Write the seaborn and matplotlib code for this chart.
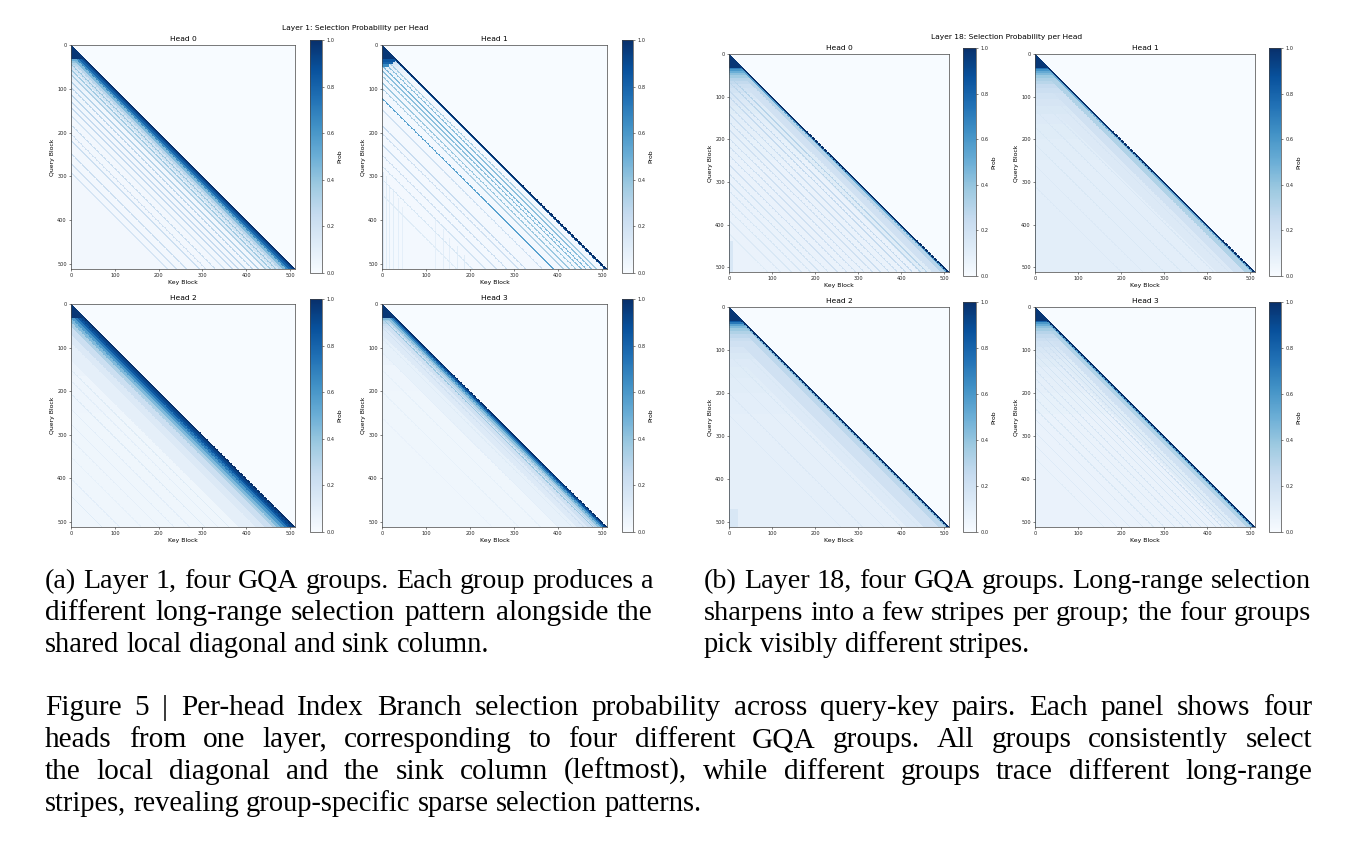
import numpy as np
import matplotlib
matplotlib.use("Agg")
import matplotlib.pyplot as plt
import seaborn as sns
from matplotlib.font_manager import FontProperties

# --- 1. Data ---
N_BLOCKS = 512
SINK_ROWS = 32          # first query rows select every block
TICKS = [0, 100, 200, 300, 400, 500]
CBAR_TICKS = [0.0, 0.2, 0.4, 0.6, 0.8, 1.0]
# background level just below the fully-selected rows, by query-row range
ROW_EDGES = [32, 36, 40, 45, 50, 56, 63, 71, 80, 92, 106, 122, 140, 165, 200, 250, 512]

# Layer 1
L1H0_BAND_EDGES = [0, 4, 9, 15, 21, 29, 37, 51, 71]
L1H0_BAND_LEVELS = [1.0, 0.9, 0.8, 0.65, 0.45, 0.3, 0.18, 0.1]
L1H0_STRIPES = [42, 55, 66, 82, 95, 112, 128, 141, 160, 181, 202, 217, 246, 269, 290]
L1H0_STRIPE_LEVELS = [0.38, 0.36, 0.33, 0.3, 0.28, 0.28, 0.25, 0.25, 0.18, 0.23, 0.2, 0.22, 0.22, 0.2, 0.17]
L1H0_STRIPE_WIDTH = 4
L1H0_ROW_LEVELS = [0.5, 0.4, 0.32, 0.25, 0.2, 0.16, 0.13, 0.1, 0.08, 0.06, 0.05, 0.04, 0.035, 0.03, 0.03, 0.03]
L1H0_SINK = 0.08
L1H0_PATCHES = []

L1H1_BAND_EDGES = [0, 5, 7]
L1H1_BAND_LEVELS = [1.0, 0.8]
L1H1_STRIPES = [22, 33, 46, 57, 69, 84, 97, 120, 146, 183, 200, 226, 250, 275, 305, 340]
L1H1_STRIPE_LEVELS = [0.35, 0.42, 0.45, 0.42, 0.38, 0.38, 0.33, 0.55, 0.2, 0.24, 0.2, 0.22, 0.2, 0.18, 0.15, 0.12]
L1H1_STRIPE_WIDTH = 4
L1H1_ROW_LEVELS = [0.3, 0.22, 0.16, 0.12, 0.09, 0.07, 0.05, 0.04, 0.03, 0.03, 0.02, 0.02, 0.02, 0.02, 0.02, 0.02]
L1H1_SINK = 0.06
L1H1_PATCHES = [(32, 38, 0, 30, 0.85), (38, 44, 0, 24, 0.8), (44, 50, 0, 15, 0.65),
                (290, 512, 0, 4, 0.14), (300, 512, 8, 11, 0.12), (320, 512, 16, 19, 0.12),
                (330, 512, 26, 28, 0.11), (350, 512, 36, 39, 0.1), (370, 512, 46, 48, 0.09),
                (400, 512, 120, 122, 0.09), (420, 512, 138, 141, 0.1), (440, 512, 152, 154, 0.1),
                (460, 512, 170, 173, 0.11), (480, 512, 186, 188, 0.12)]

L1H2_BAND_EDGES = [0, 5, 12, 18, 25, 33, 42, 52, 70, 90, 130]
L1H2_BAND_LEVELS = [1.0, 0.92, 0.85, 0.72, 0.58, 0.45, 0.33, 0.22, 0.14, 0.09]
L1H2_STRIPES = [150, 175, 205, 240, 275, 310, 350, 400, 440]
L1H2_STRIPE_LEVELS = [0.12, 0.1, 0.12, 0.1, 0.1, 0.09, 0.08, 0.1, 0.12]
L1H2_STRIPE_WIDTH = 3
L1H2_ROW_LEVELS = [0.5, 0.4, 0.32, 0.26, 0.21, 0.17, 0.14, 0.12, 0.1, 0.09, 0.08, 0.07, 0.06, 0.05, 0.05, 0.04]
L1H2_SINK = 0.06
L1H2_PATCHES = []

L1H3_BAND_EDGES = [0, 4, 7, 11, 16, 22, 28, 45, 70, 110]
L1H3_BAND_LEVELS = [1.0, 0.9, 0.75, 0.58, 0.42, 0.3, 0.2, 0.13, 0.08]
L1H3_STRIPES = [31, 52, 78, 110, 150, 200, 260]
L1H3_STRIPE_LEVELS = [0.38, 0.2, 0.12, 0.1, 0.08, 0.08, 0.07]
L1H3_STRIPE_WIDTH = 3
L1H3_ROW_LEVELS = [0.45, 0.36, 0.29, 0.23, 0.19, 0.15, 0.13, 0.11, 0.09, 0.08, 0.07, 0.06, 0.05, 0.045, 0.04, 0.04]
L1H3_SINK = 0.06
L1H3_PATCHES = []

# Layer 18
L18H0_BAND_EDGES = [0, 5, 9, 20, 40, 70]
L18H0_BAND_LEVELS = [1.0, 0.55, 0.3, 0.2, 0.12]
L18H0_STRIPES = [50, 64, 84, 99, 119, 138, 158, 176, 196, 215, 236, 258, 280, 300, 320, 342, 365, 390, 420]
L18H0_STRIPE_LEVELS = [0.3, 0.28, 0.25, 0.25, 0.22, 0.22, 0.22, 0.2, 0.2, 0.2, 0.2, 0.2, 0.18, 0.18,
                       0.16, 0.16, 0.15, 0.14, 0.12]
L18H0_STRIPE_WIDTH = 4
L18H0_ROW_LEVELS = [0.7, 0.6, 0.5, 0.42, 0.36, 0.3, 0.26, 0.22, 0.19, 0.16, 0.14, 0.12, 0.1, 0.09, 0.08, 0.07]
L18H0_SINK = 0.3
L18H0_PATCHES = [(440, 512, 0, 10, 0.16)]

L18H1_BAND_EDGES = [0, 5, 9, 25, 50, 90]
L18H1_BAND_LEVELS = [1.0, 0.5, 0.32, 0.2, 0.14]
L18H1_STRIPES = [60, 95, 130, 170, 210, 260, 310]
L18H1_STRIPE_LEVELS = [0.17, 0.16, 0.16, 0.15, 0.15, 0.14, 0.14]
L18H1_STRIPE_WIDTH = 3
L18H1_ROW_LEVELS = [0.75, 0.62, 0.52, 0.45, 0.38, 0.33, 0.29, 0.25, 0.22, 0.19, 0.17, 0.15, 0.13, 0.12, 0.11, 0.1]
L18H1_SINK = 0.3
L18H1_PATCHES = []

L18H2_BAND_EDGES = [0, 5, 9, 25, 60, 100]
L18H2_BAND_LEVELS = [1.0, 0.45, 0.28, 0.2, 0.13]
L18H2_STRIPES = [70, 110, 150, 200, 250]
L18H2_STRIPE_LEVELS = [0.15, 0.15, 0.14, 0.14, 0.13]
L18H2_STRIPE_WIDTH = 3
L18H2_ROW_LEVELS = [0.85, 0.72, 0.55, 0.45, 0.38, 0.32, 0.27, 0.23, 0.2, 0.17, 0.15, 0.13, 0.12, 0.11, 0.1, 0.09]
L18H2_SINK = 0.3
L18H2_PATCHES = [(470, 512, 0, 20, 0.16)]

L18H3_BAND_EDGES = [0, 5, 8, 20, 40, 70]
L18H3_BAND_LEVELS = [1.0, 0.55, 0.32, 0.2, 0.12]
L18H3_STRIPES = [48, 60, 75, 90, 108, 125, 145, 165, 185, 210, 235, 260, 290, 320, 350]
L18H3_STRIPE_LEVELS = [0.25, 0.2, 0.2, 0.18, 0.18, 0.17, 0.17, 0.16, 0.16, 0.15, 0.15, 0.14, 0.14, 0.13, 0.12]
L18H3_STRIPE_WIDTH = 3
L18H3_ROW_LEVELS = [0.8, 0.6, 0.5, 0.42, 0.36, 0.3, 0.26, 0.22, 0.19, 0.16, 0.14, 0.12, 0.1, 0.09, 0.08, 0.07]
L18H3_SINK = 0.3
L18H3_PATCHES = []

CAPTION_A = ["(a) Layer 1, four GQA groups. Each group produces a",
             "different long-range selection pattern alongside the",
             "shared local diagonal and sink column."]
CAPTION_B = ["(b) Layer 18, four GQA groups. Long-range selection",
             "sharpens into a few stripes per group; the four groups",
             "pick visibly different stripes."]
CAPTION_FIG = ["Figure 5 | Per-head Index Branch selection probability across query-key pairs. Each panel shows four",
               "heads from one layer, corresponding to four different GQA groups. All groups consistently select",
               "the local diagonal and the sink column (leftmost), while different groups trace different long-range",
               "stripes, revealing group-specific sparse selection patterns."]


def build_matrix(band_edges, band_levels, stripes, stripe_levels, width, row_levels, sink, patches):
    q, k = np.indices((N_BLOCKS, N_BLOCKS))
    off = q - k
    m = np.zeros((N_BLOCKS, N_BLOCKS))
    for r0, r1, v in zip(ROW_EDGES[:-1], ROW_EDGES[1:], row_levels):
        m[r0:r1, :] = v
    # local diagonal band
    for e0, e1, v in zip(band_edges[:-1], band_edges[1:], band_levels):
        m = np.where((off >= e0) & (off < e1), np.maximum(m, v), m)
    # long-range stripes
    for d, v in zip(stripes, stripe_levels):
        m = np.where((off >= d) & (off < d + width), np.maximum(m, v), m)
    for q0, q1, k0, k1, v in patches:
        m[q0:q1, k0:k1] = np.maximum(m[q0:q1, k0:k1], v)
    m[:, :3] = np.maximum(m[:, :3], sink)
    m[:SINK_ROWS, :] = 0.97
    m[off < 0] = 0.0
    return m


def head(prefix):
    g = globals()
    return build_matrix(*(g[prefix + s] for s in
                          ["_BAND_EDGES", "_BAND_LEVELS", "_STRIPES", "_STRIPE_LEVELS",
                           "_STRIPE_WIDTH", "_ROW_LEVELS", "_SINK", "_PATCHES"]))


LAYER1 = [head("L1H0"), head("L1H1"), head("L1H2"), head("L1H3")]
LAYER18 = [head("L18H0"), head("L18H1"), head("L18H2"), head("L18H3")]

# --- 2. Layout (pixels) ---
W, H = 1368, 844
fig = plt.figure(figsize=(W / 100, H / 100), dpi=100)


def px_axes(l, t, w, h):
    return fig.add_axes([l / W, 1 - (t + h) / H, w / W, h / H])


def draw_head(mat, rect, crect, title):
    ax = px_axes(*rect)
    cax = px_axes(*crect)
    sns.heatmap(mat, ax=ax, cbar_ax=cax, cmap="Blues", vmin=0, vmax=1,
                xticklabels=False, yticklabels=False,
                cbar_kws={"ticks": CBAR_TICKS}, rasterized=True)
    ax.set_xticks(np.array(TICKS) + 0.5)
    ax.set_xticklabels(TICKS)
    ax.set_yticks(np.array(TICKS) + 0.5)
    ax.set_yticklabels(TICKS, rotation=0)
    for sp in ax.spines.values():
        sp.set_visible(True)
        sp.set_linewidth(0.5)
        sp.set_color("#444444")
    ax.tick_params(length=1.6, width=0.4, pad=1.4, labelsize=3.6, colors="#222222")
    ax.set_xlabel("Key Block", fontsize=4.4, labelpad=1.6)
    ax.set_ylabel("Query Block", fontsize=4.4, labelpad=1.6)
    ax.set_title(title, fontsize=5.4, pad=2.6)
    cb = ax.collections[0].colorbar
    cb.outline.set_linewidth(0.5)
    cb.outline.set_edgecolor("#444444")
    cax.tick_params(length=1.6, width=0.4, pad=1.4, labelsize=3.6, colors="#222222")
    cb.set_label("Prob", fontsize=4.4, labelpad=2.5)


A_AX = [(71, 45, 224, 224), (382, 45, 225, 224), (71, 304, 224, 223), (382, 304, 225, 223)]
A_CB = [(310, 40, 12, 233), (622, 40, 11, 233), (310, 299, 12, 233), (622, 299, 11, 233)]
B_AX = [(729, 54, 220, 218), (1035, 54, 220, 218), (729, 307, 220, 220), (1035, 307, 220, 220)]
B_CB = [(963, 48, 13, 228), (1269, 48, 12, 228), (963, 302, 13, 230), (1269, 302, 12, 230)]

for i in range(4):
    draw_head(LAYER1[i], A_AX[i], A_CB[i], f"Head {i}")
    draw_head(LAYER18[i], B_AX[i], B_CB[i], f"Head {i}")

fig.text(355 / W, 1 - 28 / H, "Layer 1: Selection Probability per Head",
         fontsize=5.4, ha="center", va="center")
fig.text(1007 / W, 1 - 37 / H, "Layer 18: Selection Probability per Head",
         fontsize=5.4, ha="center", va="center")

# --- 3. Justified captions ---
SERIF = "Liberation Serif"
renderer = fig.canvas.get_renderer()


def tw(s, size):
    fp = FontProperties(family=SERIF, size=size)
    return renderer.get_text_width_height_descent(s, fp, ismath=False)[0]


def natural(line, size):
    words = line.split(" ")
    space = tw("a a", size) - 2 * tw("a", size)
    return sum(tw(w, size) for w in words) + space * (len(words) - 1)


blocks = [(CAPTION_A, 45, 653, [588, 620, 652]),
          (CAPTION_B, 704, 1311, [588, 620, 652]),
          (CAPTION_FIG, 45, 1312, [715, 747, 779, 811])]
ref = 10.0
base = min((x1 - x0) / natural(l, ref) * ref
           for lines, x0, x1, _ in blocks[:2] for l in lines[:-1]) * 0.995

for lines, x0, x1, ys in blocks:
    for i, (line, yb) in enumerate(zip(lines, ys)):
        words = line.split(" ")
        if i < len(lines) - 1:
            fit = (x1 - x0) / natural(line, ref) * ref * 0.995
            fs = min(fit, base * 1.05)
        else:
            fs = base * 1.02
        widths = [tw(w, fs) for w in words]
        if i < len(lines) - 1:
            gap = (x1 - x0 - sum(widths)) / (len(words) - 1)
        else:
            gap = tw("a a", fs) - 2 * tw("a", fs)
        x = x0
        for w, wd in zip(words, widths):
            fig.text(x / W, 1 - yb / H, w, fontsize=fs, family=SERIF,
                     ha="left", va="baseline")
            x += wd + gap

fig.savefig("out.png", dpi=100, facecolor="white")
